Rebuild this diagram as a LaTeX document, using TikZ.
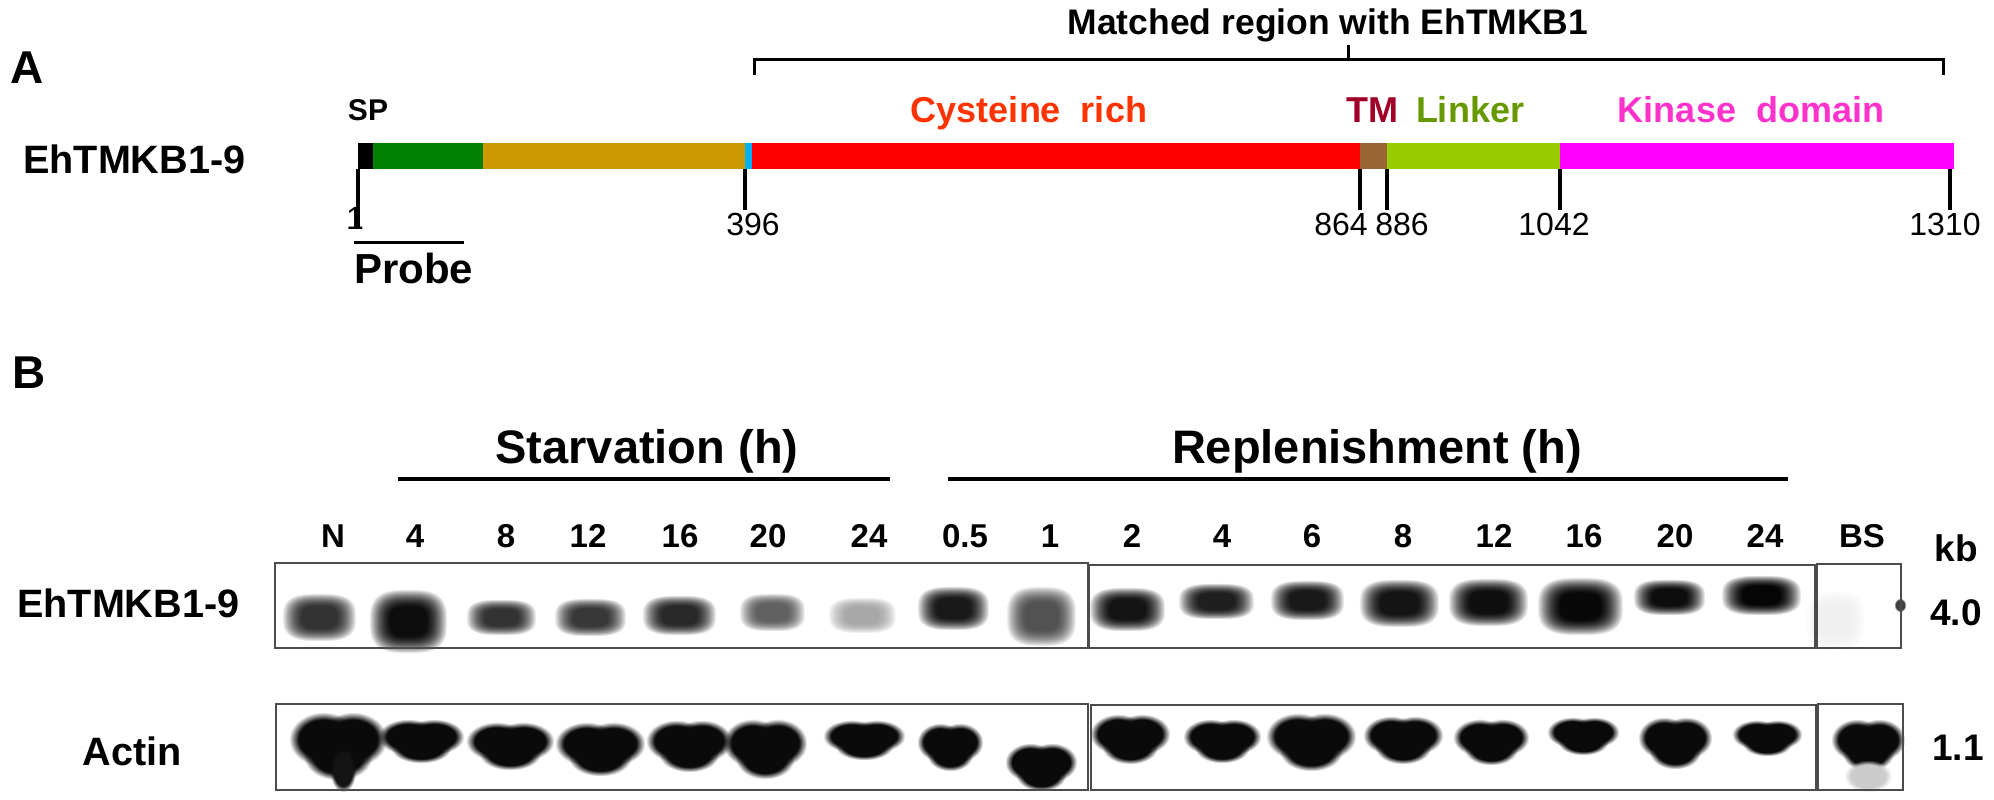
\documentclass[tikz,border=0pt]{standalone}
\usepackage{fontspec}
\setmainfont{Liberation Sans}
\usepackage{tikz}
\usetikzlibrary{positioning, fadings}

\definecolor{ntgreen}{RGB}{0,128,0}
\definecolor{midtan}{RGB}{204,153,0}
\definecolor{cysblue}{RGB}{0,176,240}
\definecolor{cysred}{RGB}{255,0,0}
\definecolor{tmbrown}{RGB}{153,102,51}
\definecolor{linkgreen}{RGB}{153,204,0}
\definecolor{kinmag}{RGB}{255,0,255}
\definecolor{cystext}{RGB}{255,51,0}
\definecolor{tmtext}{RGB}{160,0,40}
\definecolor{linktext}{RGB}{102,153,0}
\definecolor{kintext}{RGB}{255,51,204}

% soft rounded box for the blot bands
\pgfdeclarefunctionalshading{bandmask}{\pgfpoint{-50bp}{-50bp}}{\pgfpoint{50bp}{50bp}}{}{
  abs 25 div 3 exp
  exch abs 25 div 3 exp
  add 1 exch sub 0.9 div
  dup 1 gt {pop 1} if
  dup 0 lt {pop 0} if
  dup dup
}
\pgfdeclarefading{bandfade}{\pgfuseshading{bandmask}}
\pgfdeclareradialshading{actinmask}{\pgfpointorigin}{color(0bp)=(pgftransparent!0); color(18bp)=(pgftransparent!0); color(25bp)=(pgftransparent!100); color(50bp)=(pgftransparent!100)}
\pgfdeclarefading{actinfade}{\pgfuseshading{actinmask}}

\tikzstyle{panelletter} = [anchor=base west, inner sep=0, font=\fontsize{46}{50}\selectfont\bfseries]
\tikzstyle{rowlabel}    = [anchor=base west, inner sep=0, font=\fontsize{39.6}{44}\selectfont\bfseries]
\tikzstyle{bracelabel}  = [anchor=base, inner sep=0, font=\fontsize{35.5}{40}\selectfont\bfseries]
\tikzstyle{domainlabel} = [anchor=base, inner sep=0, font=\fontsize{36}{40}\selectfont\bfseries]
\tikzstyle{resnum}      = [anchor=north, inner sep=0, font=\fontsize{32}{36}\selectfont]
\tikzstyle{probelabel}  = [anchor=base west, inner sep=0, font=\fontsize{42}{46}\selectfont\bfseries]
\tikzstyle{heading}     = [anchor=base, inner sep=0, font=\fontsize{47}{52}\selectfont\bfseries]
\tikzstyle{lane}        = [anchor=base, inner sep=0, font=\fontsize{33}{36}\selectfont\bfseries]
\tikzstyle{sizelabel}   = [anchor=base, inner sep=0, font=\fontsize{37}{40}\selectfont\bfseries]
\tikzstyle{seg}         = [rectangle, minimum height=26, inner sep=0, outer sep=0, anchor=west]
\tikzstyle{panel}       = [rectangle, draw=black!70, line width=1.5, inner sep=0, outer sep=0, anchor=north west]
\tikzstyle{tickline}    = [line width=3.2, shorten >=3pt]
\tikzstyle{bracket}     = [line width=3]
\tikzstyle{probeline}   = [line width=3.5]
\tikzstyle{groupline}   = [line width=4]
\tikzstyle{band}        = [path fading=bandfade]
\tikzstyle{actinband}   = [path fading=actinfade]

\begin{document}
\begin{tikzpicture}[x=1pt, y=-1pt]
    \useasboundingbox (0,0) rectangle (1994,800);

    % A: domain map
    \node (lettera) [panelletter] at (10,83) {A};
    \node (matched) [bracelabel]  at (1328,35) {Matched region with EhTMKB1};
    \coordinate (bl) at (754,75);
    \coordinate (br) at (1943,75);
    \coordinate (bm) at (1348,45);
    \draw [bracket] (bl) -- ++(0,-15) -| (br);
    \draw [bracket] (bm) -- ++(0,15);

    \node (rowa)   [rowlabel] at (23,173) {EhTMKB1-9};
    \node (sp)     [seg, fill=black,     minimum width=15] at (358,156) {};
    \node (nterm)  [seg, fill=ntgreen,   minimum width=110, right=0pt of sp]     {};
    \node (mid)    [seg, fill=midtan,    minimum width=262, right=0pt of nterm]  {};
    \node (cyan)   [seg, fill=cysblue,   minimum width=7,   right=0pt of mid]    {};
    \node (cys)    [seg, fill=cysred,    minimum width=608, right=0pt of cyan]   {};
    \node (tm)     [seg, fill=tmbrown,   minimum width=27,  right=0pt of cys]    {};
    \node (linker) [seg, fill=linkgreen, minimum width=173, right=0pt of tm]     {};
    \node (kinase) [seg, fill=kinmag,    minimum width=394, right=0pt of linker] {};

    \node (splabel)  [domainlabel, font=\fontsize{30}{34}\selectfont\bfseries] at (368,120) {SP};
    \node (cyslabel) [domainlabel, text=cystext]  at (1029,122) {Cysteine\ \ rich};
    \node (tmlabel)  [domainlabel, text=tmtext]   at (1372,122) {TM};
    \node (linklabel)[domainlabel, text=linktext] at (1470,122) {Linker};
    \node (kinlabel) [domainlabel, text=kintext]  at (1751,122) {Kinase\ \ domain};

    \node (one)   [resnum] at (355,207)  {1};
    \node (n396)  [resnum] at (753,213)  {396};
    \node (n864)  [resnum] at (1341,213) {864};
    \node (n886)  [resnum] at (1402,213) {886};
    \node (n1042) [resnum] at (1554,213) {1042};
    \node (n1310) [resnum] at (1945,213) {1310};

    \draw [tickline, shorten >=0pt] (sp.south west) -- (sp.south west |- one.south);
    \draw [tickline] (mid.south east)    -- (mid.south east |- n396.north);
    \draw [tickline] (cys.south east)    -- (cys.south east |- n864.north);
    \draw [tickline] (tm.south east)     -- (tm.south east |- n886.north);
    \draw [tickline] (linker.south east) -- (linker.south east |- n1042.north);
    \draw [tickline] ([xshift=-4pt]kinase.south east) -- ([xshift=-4pt]kinase.south east |- n1310.north);

    \node (probe) [probelabel] at (354,283) {Probe};
    \draw [probeline] ([yshift=10pt]probe.north west) -- ([yshift=10pt, xshift=-9pt]probe.north east);

    % B: northern blot
    \node (letterb) [panelletter] at (12,388) {B};
    \node (starv)   [heading] at (647,463)  {Starvation (h)};
    \node (reple)   [heading] at (1377,463) {Replenishment (h)};
    \coordinate (s1) at (398,479);
    \coordinate (s2) at (890,479);
    \coordinate (r1) at (948,479);
    \coordinate (r2) at (1788,479);
    \draw [groupline] (s1) -- (s2);
    \draw [groupline] (r1) -- (r2);

    \foreach \x/\t [count=\i] in {333/N, 415/4, 506/8, 588/12, 680/16, 768/20, 869/24, 965/0.5, 1050/1,
                                  1132/2, 1222/4, 1312/6, 1403/8, 1494/12, 1584/16, 1675/20, 1765/24, 1862/BS}
        \node (lane\i) [lane] at (\x,547) {\t};
    \node (kb) [sizelabel] at (1956,561) {kb};

    \node (rowb)  [rowlabel] at (17,617) {EhTMKB1-9};
    \node (actin) [rowlabel, anchor=base] at (132,765) {Actin};
    \node (s40)   [sizelabel] at (1956,625) {4.0};
    \node (s11)   [sizelabel] at (1958,760) {1.1};

    % EhTMKB1-9 bands
    \foreach \x/\y/\w/\h/\k in {319/617/37/24/80, 408/621/39/32/95, 501/617/35/18/80, 590/617/36/19/78,
                                679/615/37/20/84, 772/612/33/19/62, 862/615/34/18/34, 953/608/36/22/90,
                                1041/616/35/30/68, 1127/609/38/22/92, 1216/601/38/18/88, 1307/600/37/20/90,
                                1399/603/40/24/92, 1488/602/40/24/94, 1580/606/43/29/97, 1669/597/36/18/95,
                                1761/595/40/20/98, 1835/620/30/30/6}
        \fill [band, black!\k] (\x-\w,\y-\h) rectangle (\x+\w,\y+\h);
    \fill [actinband, black!75] (1894,598) rectangle (1906,612);

    % actin bands
    \foreach \x/\y/\w/\h in {338/746/49/34, 421/741/43/22, 510/746/44/24, 600/749/45/27, 689/746/43/26,
                             765/749/42/30, 864/740/41/20, 950/747/33/24, 1041/767/36/24, 1130/739/40/25,
                             1222/741/39/22, 1311/742/45/29, 1403/740/40/24, 1491/742/38/23, 1583/736/36/19,
                             1675/743/37/26, 1767/738/35/18, 1868/745/37/26} {
        \fill [actinband, black!96] (\x-\w,\y-\h) rectangle (\x+0.4*\w,\y+0.6*\h);
        \fill [actinband, black!96] (\x-0.4*\w,\y-\h) rectangle (\x+\w,\y+0.6*\h);
        \fill [actinband, black!96] (\x-0.7*\w,\y-0.4*\h) rectangle (\x+0.7*\w,\y+\h);
    }
    \fill [actinband, black!92] (330,748) rectangle (356,792);
    \fill [actinband, black!20] (1844,760) rectangle (1892,792);

    \node (blota)  [panel, minimum width=813, minimum height=85] at (275,563)  {};
    \node (blotb)  [panel, minimum width=726, minimum height=83] at (1089,565) {};
    \node (blotc)  [panel, minimum width=84,  minimum height=84] at (1817,564) {};
    \node (actina) [panel, minimum width=812, minimum height=86] at (276,704)  {};
    \node (actinb) [panel, minimum width=725, minimum height=85] at (1091,705) {};
    \node (actinc) [panel, minimum width=85,  minimum height=86] at (1818,704) {};

\end{tikzpicture}
\end{document}
